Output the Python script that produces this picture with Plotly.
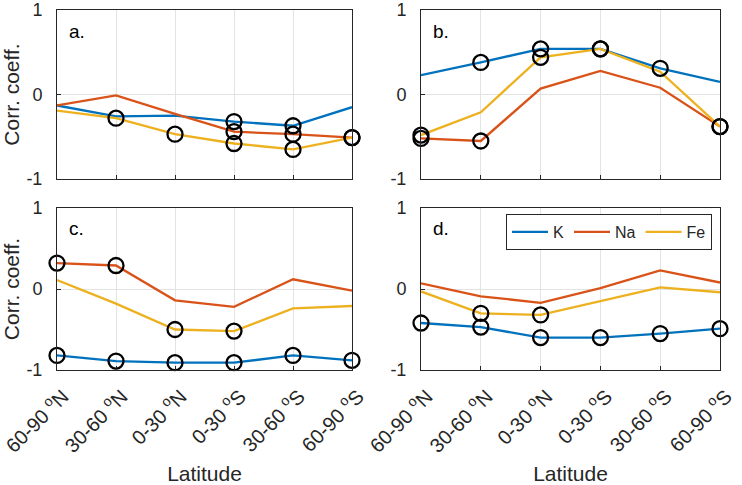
import plotly.graph_objects as go

# ---------------- data ----------------
lat_labels = ["60-90 <sup>o</sup>N", "30-60 <sup>o</sup>N", "0-30 <sup>o</sup>N",
              "0-30 <sup>o</sup>S", "30-60 <sup>o</sup>S", "60-90 <sup>o</sup>S"]
x_idx = [0, 1, 2, 3, 4, 5]
species = ["K", "Na", "Fe"]

a_K = [-0.13, -0.26, -0.25, -0.32, -0.37, -0.15]
a_Na = [-0.13, -0.01, -0.23, -0.44, -0.47, -0.51]
a_Fe = [-0.19, -0.28, -0.47, -0.58, -0.65, -0.51]
a_sig_K = [0, 0, 0, 1, 1, 0]
a_sig_Na = [0, 0, 0, 1, 1, 1]
a_sig_Fe = [0, 1, 1, 1, 1, 1]

b_K = [0.23, 0.38, 0.54, 0.54, 0.31, 0.15]
b_Na = [-0.52, -0.55, 0.07, 0.28, 0.08, -0.38]
b_Fe = [-0.48, -0.21, 0.44, 0.54, 0.27, -0.38]
b_sig_K = [0, 1, 1, 1, 1, 0]
b_sig_Na = [1, 1, 0, 0, 0, 1]
b_sig_Fe = [1, 0, 1, 1, 0, 1]

c_K = [-0.82, -0.89, -0.91, -0.91, -0.82, -0.88]
c_Na = [0.32, 0.29, -0.14, -0.22, 0.12, -0.02]
c_Fe = [0.11, -0.18, -0.50, -0.52, -0.24, -0.21]
c_sig_K = [1, 1, 1, 1, 1, 1]
c_sig_Na = [1, 1, 0, 0, 0, 0]
c_sig_Fe = [0, 0, 1, 1, 0, 0]

d_K = [-0.42, -0.47, -0.60, -0.60, -0.55, -0.49]
d_Na = [0.07, -0.09, -0.17, 0.01, 0.23, 0.08]
d_Fe = [-0.03, -0.30, -0.32, -0.15, 0.02, -0.04]
d_sig_K = [1, 1, 1, 1, 1, 1]
d_sig_Na = [0, 0, 0, 0, 0, 0]
d_sig_Fe = [0, 1, 1, 0, 0, 0]

panel_letters = ["a.", "b.", "c.", "d."]
y_ticks = [-1, 0, 1]

# ---------------- styling ----------------
colors = {"K": "#0072BD", "Na": "#D95319", "Fe": "#EDB120"}
FONT = "Liberation Sans, Arial, Helvetica, sans-serif"
TXT = "#262626"
W, H = 742, 485

panels = [
    ({"K": a_K, "Na": a_Na, "Fe": a_Fe}, {"K": a_sig_K, "Na": a_sig_Na, "Fe": a_sig_Fe}),
    ({"K": b_K, "Na": b_Na, "Fe": b_Fe}, {"K": b_sig_K, "Na": b_sig_Na, "Fe": b_sig_Fe}),
    ({"K": c_K, "Na": c_Na, "Fe": c_Fe}, {"K": c_sig_K, "Na": c_sig_Na, "Fe": c_sig_Fe}),
    ({"K": d_K, "Na": d_Na, "Fe": d_Fe}, {"K": d_sig_K, "Na": d_sig_Na, "Fe": d_sig_Fe}),
]

# pixel boxes (left, right, top, bottom)
boxes = [(57, 352, 10, 179), (421, 720, 10, 179), (57, 352, 208, 370), (421, 720, 208, 370)]

fig = go.Figure()
layout = {}
for i, ((vals, sigs), (l, r, t, b)) in enumerate(zip(panels, boxes)):
    n = "" if i == 0 else str(i + 1)
    xa, ya = "x" + n, "y" + n
    for sp in species:
        fig.add_trace(go.Scatter(
            x=x_idx, y=vals[sp], mode="lines", name=sp,
            line=dict(color=colors[sp], width=2.3),
            xaxis=xa, yaxis=ya, showlegend=(i == 3), cliponaxis=False))
    for sp in species:
        xs = [x for x, s in zip(x_idx, sigs[sp]) if s]
        ys = [v for v, s in zip(vals[sp], sigs[sp]) if s]
        fig.add_trace(go.Scatter(
            x=xs, y=ys, mode="markers", showlegend=False, hoverinfo="skip",
            marker=dict(symbol="circle-open", size=15, color="black",
                        line=dict(width=2.3, color="black")),
            xaxis=xa, yaxis=ya, cliponaxis=False))
    bottom_row = i >= 2
    left_col = i % 2 == 0
    layout["xaxis" + n] = dict(
        domain=[l / W, r / W], anchor=ya, range=[0, 5],
        tickvals=x_idx, ticktext=lat_labels, showticklabels=bottom_row,
        tickangle=-45, ticks="inside", ticklen=4, tickcolor=TXT,
        ticklabelstandoff=6, ticklabelshift=6, ticklabeloverflow="allow",
        showgrid=True, gridcolor="#e3e3e3", gridwidth=1, zeroline=False,
        showline=True, linecolor=TXT, linewidth=1, mirror=True,
        tickfont=dict(family=FONT, size=20, color=TXT),
        title=dict(text="Latitude" if bottom_row else "", standoff=12,
                   font=dict(family=FONT, size=21, color=TXT)),
        automargin=False)
    layout["yaxis" + n] = dict(
        domain=[1 - b / H, 1 - t / H], anchor=xa, range=[-1, 1],
        tickvals=y_ticks, ticktext=[str(v) for v in y_ticks],
        ticks="inside", ticklen=4, tickcolor=TXT,
        ticklabelstandoff=10, ticklabeloverflow="allow",
        showgrid=True, gridcolor="#e3e3e3", gridwidth=1, zeroline=False,
        showline=True, linecolor=TXT, linewidth=1, mirror=True,
        tickfont=dict(family=FONT, size=18, color=TXT),
        title=dict(text="Corr. coeff." if left_col else "", standoff=2,
                   font=dict(family=FONT, size=21, color=TXT)),
        automargin=False)
    fig.add_annotation(
        text=panel_letters[i], xref=xa + " domain", yref=ya + " domain",
        x=0.035, y=0.875, xanchor="left", yanchor="middle", showarrow=False,
        font=dict(family=FONT, size=19, color="black"))

fig.update_layout(**layout)
fig.update_layout(
    width=W, height=H, margin=dict(l=0, r=0, t=0, b=0),
    paper_bgcolor="white", plot_bgcolor="white",
    font=dict(family=FONT, size=16, color=TXT),
    legend=dict(orientation="h", x=506 / W, y=1 - 214 / H, xanchor="left", yanchor="top",
                bgcolor="white", bordercolor=TXT, borderwidth=1,
                font=dict(family=FONT, size=16, color=TXT),
                itemwidth=36, tracegroupgap=0),
)

fig.write_html("out.html",
               config={"displayModeBar": False},
               post_script="document.body.style.margin='0px';document.body.style.overflow='hidden';")
